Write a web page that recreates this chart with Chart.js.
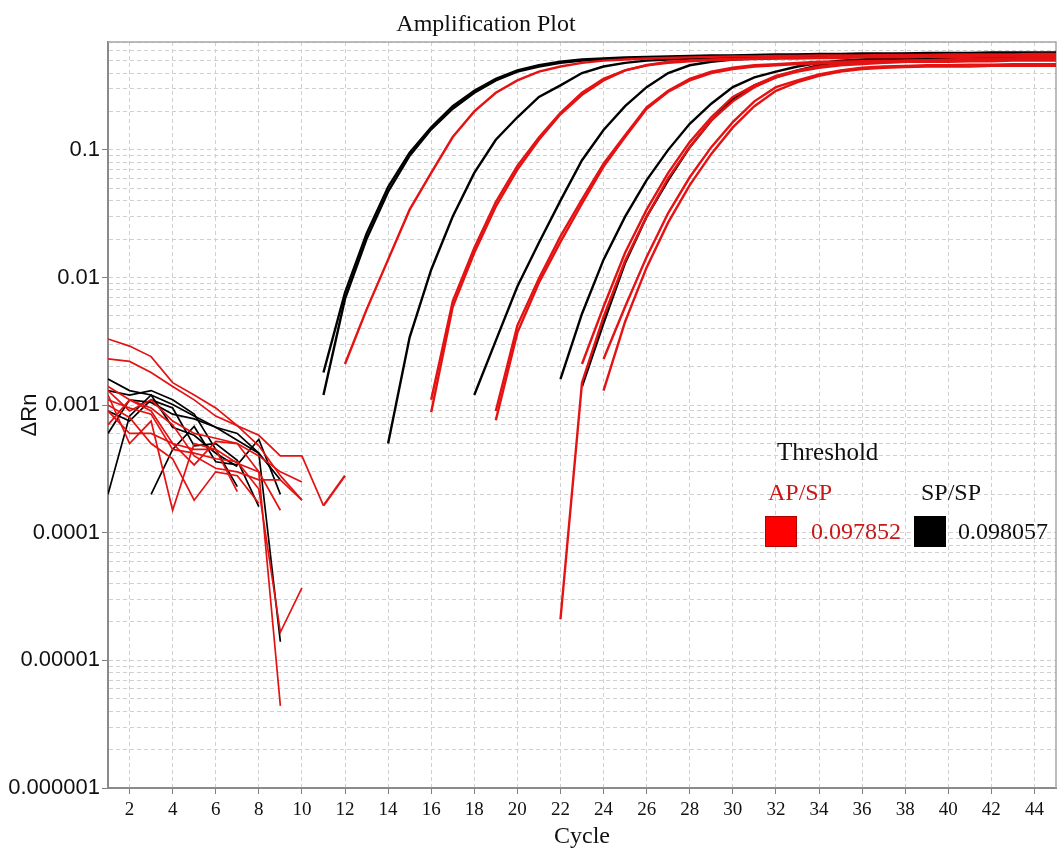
<!DOCTYPE html>
<html>
<head>
<meta charset="utf-8">
<title>Amplification Plot</title>
<script src="https://cdn.jsdelivr.net/npm/chart.js@4.4.1/dist/chart.umd.min.js"></script>
<style>
  html, body { margin: 0; padding: 0; background: #fff; }
</style>
</head>
<body>
<canvas id="myChart" width="1058" height="850"></canvas>
<script>
// cycle numbers (x)
const cycles = [1,2,3,4,5,6,7,8,9,10,11,12,13,14,15,16,17,18,19,20,21,22,23,
                24,25,26,27,28,29,30,31,32,33,34,35,36,37,38,39,40,41,42,43,44,45];
const xTicks = [2,4,6,8,10,12,14,16,18,20,22,24,26,28,30,32,34,36,38,40,42,44];
const yMajorTicks = [0.000001, 0.00001, 0.0001, 0.001, 0.01, 0.1];
const yTickLabels = ['0.000001', '0.00001', '0.0001', '0.001', '0.01', '0.1'];
const yMin = 0.000001;
const yMax = 0.7;

// SP/SP wells (black), null = negative / not shown on log axis
const spSp1 = [0.0016,0.0013,0.0012,0.00101,0.00082,0.00067,0.00053,0.00042,0.000014,
  null,
  0.0018,0.0076,0.022,0.051,0.095,0.15,0.22,0.29,0.36,0.42,0.46,0.49,0.51,0.52,0.53,0.535,0.54,0.545,0.55,
  0.55,0.555,0.56,0.56,0.565,0.565,0.57,0.57,0.57,0.575,0.575,0.575,0.58,0.58,0.58,0.58];
const spSp2 = [0.0002,0.00082,0.0012,0.00067,0.00058,0.00042,0.00033,
  null,null,null,
  0.0012,0.0068,0.020,0.047,0.09,0.145,0.21,0.28,0.35,0.41,0.45,0.48,0.50,0.51,0.52,0.525,0.53,0.535,0.54,
  0.545,0.55,0.55,0.555,0.555,0.56,0.56,0.56,0.565,0.565,0.565,0.57,0.57,0.57,0.57,0.57];
const spSp3 = [null,null,
  0.0002,0.00045,0.00068,0.00036,0.00034,0.00054,0.0002,
  null,null,null,null,
  0.0005,0.0034,0.0115,0.030,0.066,0.12,0.18,0.26,0.32,0.40,0.45,0.48,0.50,0.51,0.52,0.525,
  0.53,0.535,0.54,0.54,0.545,0.545,0.55,0.55,0.555,0.555,0.56,0.56,0.56,0.565,0.565,0.565];
const spSp4 = [0.0013,0.0012,0.0013,0.0011,0.00085,0.00045,0.00023,
  null,null,null,null,null,null,null,null,null,null,
  0.0012,0.0032,0.0085,0.0187,0.040,0.083,0.143,0.22,0.31,0.40,0.46,0.49,
  0.51,0.52,0.525,0.53,0.535,0.54,0.54,0.545,0.545,0.55,0.55,0.55,0.555,0.555,0.56,0.56];
const spSp5 = [0.0006,0.0011,0.00105,0.00085,0.00078,0.00067,0.0006,0.00042,0.00026,
  null,null,null,null,null,null,null,null,null,null,null,null,
  0.0016,0.0052,0.0138,0.030,0.058,0.10,0.16,0.23,
  0.31,0.37,0.41,0.45,0.48,0.50,0.51,0.52,0.525,0.53,0.535,0.54,0.54,0.545,0.545,0.55];
const spSp6 = [0.0009,0.00075,0.0011,0.00095,0.00048,0.0005,0.00037,0.00016,
  null,null,null,null,null,null,null,null,null,null,null,null,null,null,
  0.0014,0.0044,0.013,0.030,0.058,0.105,0.17,
  0.25,0.32,0.37,0.42,0.46,0.49,0.50,0.51,0.515,0.52,0.525,0.53,0.53,0.535,0.535,0.54];

// AP/SP wells (red)
const apSp1 = [0.0014,0.0011,0.0009,0.0005,0.00034,0.00052,0.0005,0.0003,0.0000044,
  null,null,
  0.0021,0.0056,0.0138,0.034,0.066,0.126,0.20,0.28,0.35,0.41,0.45,0.48,0.50,0.51,0.52,0.525,0.53,0.535,
  0.54,0.54,0.545,0.545,0.55,0.55,0.55,0.555,0.555,0.555,0.56,0.56,0.56,0.56,0.565,0.565];
const apSp2 = [0.0011,0.00095,0.00085,0.00045,0.00042,0.00038,0.00036,0.00022,0.0000166,0.000037,
  null,null,null,null,null,
  0.00088,0.0059,0.0156,0.036,0.07,0.12,0.19,0.27,0.35,0.42,0.46,0.49,0.50,0.51,
  0.515,0.52,0.525,0.53,0.53,0.535,0.535,0.54,0.54,0.54,0.545,0.545,0.545,0.55,0.55,0.55];
const apSp3 = [0.0023,0.0022,0.0018,0.0014,0.0011,0.00082,0.00069,0.00048,0.00028,0.00018,
  null,null,null,null,null,
  0.0011,0.0065,0.017,0.039,0.075,0.125,0.195,0.28,0.36,0.42,0.46,0.48,0.495,0.505,
  0.51,0.515,0.52,0.52,0.525,0.525,0.53,0.53,0.53,0.535,0.535,0.535,0.54,0.54,0.54,0.54];
const apSp4 = [0.0012,0.0005,0.00075,0.00015,0.0005,0.00045,0.00021,
  null,null,null,null,null,null,null,null,null,null,null,
  0.00076,0.0037,0.0091,0.019,0.038,0.074,0.126,0.21,0.285,0.35,0.40,
  0.43,0.45,0.46,0.47,0.475,0.48,0.48,0.485,0.49,0.49,0.49,0.495,0.495,0.5,0.5,0.5];
const apSp5 = [0.0009,0.0006,0.0006,0.0005,0.00045,0.00045,0.00035,0.0003,0.00015,
  null,null,null,null,null,null,null,null,null,
  0.0009,0.0042,0.0098,0.021,0.041,0.078,0.13,0.215,0.29,0.36,0.41,
  0.44,0.46,0.47,0.48,0.49,0.49,0.495,0.5,0.5,0.505,0.505,0.51,0.51,0.515,0.515,0.52];
const apSp6 = [0.0007,0.0011,0.00095,0.0007,0.0004,0.00032,0.0003,0.00026,0.00026,0.00018,
  null,null,null,null,null,null,null,null,null,null,null,null,
  0.0021,0.0059,0.0156,0.034,0.066,0.115,0.18,
  0.26,0.32,0.38,0.42,0.45,0.47,0.48,0.49,0.5,0.505,0.51,0.515,0.52,0.52,0.525,0.53];
const apSp7 = [0.001,0.0008,0.0005,0.00038,0.00018,0.0003,0.00028,0.00017,
  null,null,null,null,null,null,null,null,null,null,null,null,null,
  0.000021,0.0015,0.0049,0.0135,0.030,0.060,0.105,0.17,
  0.24,0.31,0.37,0.41,0.44,0.46,0.47,0.48,0.49,0.495,0.5,0.505,0.51,0.51,0.515,0.52];
const apSp8 = [0.0033,0.0029,0.0024,0.0015,0.0012,0.00095,0.00069,0.00058,0.0004,0.0004,0.000163,0.00028,
  null,null,null,null,null,null,null,null,null,null,null,
  0.0023,0.0059,0.0145,0.032,0.061,0.105,
  0.165,0.24,0.31,0.35,0.39,0.42,0.44,0.45,0.455,0.46,0.46,0.465,0.465,0.47,0.47,0.47];
const apSp9 = [0.0013,0.0009,0.0011,0.00075,0.0006,0.00055,0.0005,0.0004,0.0003,0.00025,
  null,null,null,null,null,null,null,null,null,null,null,null,null,
  0.0013,0.0045,0.012,0.027,0.053,0.093,
  0.15,0.22,0.29,0.34,0.38,0.41,0.43,0.44,0.445,0.45,0.45,0.45,0.455,0.455,0.455,0.455];

const blackWells = [spSp1, spSp2, spSp3, spSp4, spSp5, spSp6];
const redWells = [apSp1, apSp2, apSp3, apSp4, apSp5, apSp6, apSp7, apSp8, apSp9];

const thresholdApSp = '0.097852';
const thresholdSpSp = '0.098057';

const RED = 'rgb(228, 18, 18)';
const BLACK = '#000000';

function makeSet(values, color, name) {
  return {
    label: name,
    data: values.map((v, i) => ({ x: cycles[i], y: v })),
    borderColor: color,
    borderWidth: 2.4,
    pointRadius: 0,
    tension: 0,
    spanGaps: false,
    segment: {
      // noisy baseline drawn a bit thinner than the amplification part
      borderWidth: ctx => ctx.p0.parsed.x < 11 ? 1.7 : 2.4
    }
  };
}

const datasets = [];
redWells.forEach((w, i) => datasets.push(makeSet(w, RED, 'AP/SP ' + (i + 1))));
blackWells.forEach((w, i) => datasets.push(makeSet(w, BLACK, 'SP/SP ' + (i + 1))));

function isMajor(v) {
  return yMajorTicks.some(m => Math.abs(v - m) / m < 1e-6);
}

// frame, title and threshold box
const plotDecor = {
  id: 'plotDecor',
  beforeDatasetsDraw(chart) {
    const { ctx, chartArea: a } = chart;
    ctx.save();
    ctx.strokeStyle = '#a6a6a6';
    ctx.lineWidth = 1.5;
    ctx.beginPath();
    ctx.moveTo(a.left, a.top);
    ctx.lineTo(a.right, a.top);
    ctx.lineTo(a.right, a.bottom);
    ctx.stroke();
    ctx.restore();
  },
  afterDraw(chart) {
    const { ctx, chartArea: a } = chart;
    ctx.save();
    ctx.textBaseline = 'middle';
    ctx.font = '24px "Liberation Serif", "Times New Roman", serif';
    ctx.fillStyle = '#111';
    ctx.textAlign = 'center';
    ctx.fillText('Amplification Plot', a.left + 378, 25);

    ctx.textAlign = 'left';
    ctx.font = '25px "Liberation Serif", "Times New Roman", serif';
    ctx.fillStyle = '#111';
    ctx.fillText('Threshold', a.left + 669, 453);

    ctx.font = '24px "Liberation Serif", "Times New Roman", serif';
    ctx.fillStyle = 'rgb(200, 25, 25)';
    ctx.fillText('AP/SP', a.left + 660, 494);
    ctx.fillStyle = '#111';
    ctx.fillText('SP/SP', a.left + 813, 494);

    // swatches
    ctx.fillStyle = '#ff0000';
    ctx.fillRect(a.left + 657, 516, 32, 31);
    ctx.strokeStyle = '#b00000';
    ctx.lineWidth = 1;
    ctx.strokeRect(a.left + 657.5, 516.5, 31, 30);
    ctx.fillStyle = '#000';
    ctx.fillRect(a.left + 806, 516, 32, 31);

    ctx.fillStyle = 'rgb(200, 25, 25)';
    ctx.fillText(thresholdApSp, a.left + 703, 533);
    ctx.fillStyle = '#111';
    ctx.fillText(thresholdSpSp, a.left + 850, 533);
    ctx.restore();
  }
};

const ctx = document.getElementById('myChart').getContext('2d');
const myChart = new Chart(ctx, {
  type: 'line',
  data: { datasets: datasets },
  plugins: [plotDecor],
  options: {
    responsive: false,
    animation: false,
    devicePixelRatio: 1,
    layout: { padding: { top: 42, right: 2, left: 0, bottom: 0 } },
    plugins: {
      legend: { display: false },
      title: { display: false },
      tooltip: { enabled: false }
    },
    scales: {
      x: {
        type: 'linear',
        min: 1,
        max: 45,
        afterBuildTicks: scale => { scale.ticks = xTicks.map(v => ({ value: v })); },
        afterFit: scale => { scale.height = 62; },
        ticks: {
          autoSkip: false,
          maxRotation: 0,
          padding: 5,
          color: '#111',
          font: { family: '"Liberation Serif", "Times New Roman", serif', size: 19 }
        },
        grid: {
          color: '#d0d0d0',
          lineWidth: 1,
          tickLength: 6,
          tickColor: '#808080',
          tickBorderDash: []
        },
        border: { display: true, color: '#8a8a8a', width: 2, dash: [4, 3] },
        title: {
          display: true,
          text: 'Cycle',
          color: '#111',
          padding: { top: 0, bottom: 1 },
          font: { family: '"Liberation Serif", "Times New Roman", serif', size: 24, lineHeight: 1 }
        }
      },
      y: {
        type: 'logarithmic',
        min: yMin,
        max: yMax,
        afterBuildTicks: scale => {
          const t = [];
          yMajorTicks.forEach(m => {
            for (let k = 1; k <= 9; k++) {
              const v = +(m * k).toPrecision(6);
              if (v <= yMax + 1e-12) t.push({ value: v, major: k === 1 });
            }
          });
          scale.ticks = t;
        },
        afterFit: scale => { scale.width = 108; },
        ticks: {
          autoSkip: false,
          padding: 2,
          color: '#111',
          font: { family: '"Liberation Sans", Arial, sans-serif', size: 22 },
          callback: value => {
            const idx = yMajorTicks.findIndex(m => Math.abs(value - m) / m < 1e-6);
            return idx >= 0 ? yTickLabels[idx] : '';
          }
        },
        grid: {
          color: '#d0d0d0',
          lineWidth: 1,
          tickLength: 6,
          tickColor: c => (c.tick && isMajor(c.tick.value)) ? '#808080' : 'rgba(0,0,0,0)',
          tickBorderDash: []
        },
        border: { display: true, color: '#8a8a8a', width: 2, dash: [4, 3] },
        title: {
          display: true,
          text: 'ΔRn',
          color: '#111',
          padding: { top: 19, bottom: 0 },
          font: { family: '"Liberation Sans", Arial, sans-serif', size: 22, lineHeight: 1 }
        }
      }
    }
  }
});
</script>
</body>
</html>
